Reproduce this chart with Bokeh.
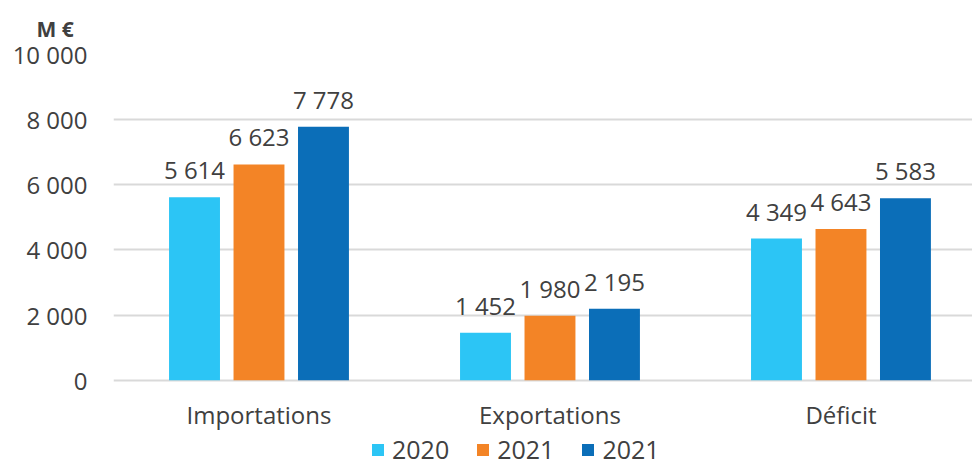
from bokeh.plotting import figure
from bokeh.models import (ColumnDataSource, FixedTicker, Legend, LegendItem,
                          LabelSet, Range1d)
from bokeh.core.properties import value
from bokeh.transform import dodge
from bokeh.embed import file_html
from bokeh.resources import INLINE

categories = ["Importations", "Exportations", "Déficit"]
series_names = ["2020", "2021", "2021"]
values_2020 = [5614, 1452, 4349]
values_2021 = [6623, 1980, 4643]
values_2021b = [7778, 2195, 5583]
y_ticks = [0, 2000, 4000, 6000, 8000, 10000]
y_tick_labels = ["0", "2 000", "4 000", "6 000", "8 000", "10 000"]
unit_label = "M €"

colors = ["#2CC5F5", "#F38426", "#0B6EB8"]
FONT = "Open Sans"
TEXT = "#404040"

def fmt(v):
    return f"{v:,}".replace(",", " ")

# each category occupies one unit slot; its centre is at slot + 0.5
xpos = [i + 0.5 for i in range(len(categories))]

src = ColumnDataSource(dict(
    cat=categories,
    x=xpos,
    zero=[0] * len(categories),
    v0=values_2020, v1=values_2021, v2=values_2021b,
    l0=[fmt(v) for v in values_2020],
    l1=[fmt(v) for v in values_2021],
    l2=[fmt(v) for v in values_2021b],
))

# the original chart is cut on the right: only ~2.95 of the 3 slots are visible
p = figure(x_range=Range1d(0, 2.952), y_range=Range1d(-2652, 10000),
           width=972, height=466, output_backend="svg", toolbar_location=None,
           min_border_left=113, min_border_right=0, min_border_top=51, min_border_bottom=0)
p.outline_line_color = None
p.background_fill_color = "white"
p.border_fill_color = "white"

offsets = [-0.2216, 0.0, 0.2216]
renderers = []
for i, off in enumerate(offsets):
    r = p.vbar(x=dodge("x", off), top=f"v{i}", width=0.175,
               source=src, fill_color=colors[i], line_color=None)
    renderers.append(r)
    ls = LabelSet(x=dodge("x", off), y=f"v{i}", text=f"l{i}", source=src,
                  text_align="center", text_baseline="alphabetic", y_offset=18,
                  text_font=value(FONT), text_font_size="24px", text_color=TEXT)
    p.add_layout(ls)

# category labels under the baseline
p.add_layout(LabelSet(x="x", y="zero", text="cat", source=src, text_align="center",
                      text_baseline="alphabetic", y_offset=-44,
                      text_font=value(FONT), text_font_size="24px", text_color=TEXT))

p.xaxis.visible = False
p.yaxis.ticker = FixedTicker(ticks=y_ticks)
p.yaxis.major_label_overrides = {t: l for t, l in zip(y_ticks, y_tick_labels)}
p.yaxis.axis_line_color = None
p.yaxis.major_tick_line_color = None
p.yaxis.minor_tick_line_color = None
p.yaxis.major_label_standoff = 20
p.yaxis.major_label_text_font = FONT
p.yaxis.major_label_text_font_size = "24px"
p.yaxis.major_label_text_color = TEXT

p.xgrid.grid_line_color = None
p.ygrid.grid_line_color = "#D9D9D9"
p.ygrid.grid_line_width = 2

p.title.text = unit_label
p.title.align = "left"
p.title.offset = -77
p.title.standoff = 24
p.title.text_font = FONT
p.title.text_font_size = "21px"
p.title.text_font_style = "bold"
p.title.text_color = TEXT

legend = Legend(items=[LegendItem(label=series_names[i], renderers=[renderers[i]]) for i in range(3)],
                orientation="horizontal", location=(257, 0),
                glyph_width=15, glyph_height=15, label_standoff=7, spacing=26,
                label_text_font=FONT, label_text_font_size="25px", label_text_color=TEXT,
                border_line_color=None, background_fill_alpha=0, padding=0, margin=0)
p.add_layout(legend, "center")

open("out.html", "w").write(file_html(p, INLINE))
